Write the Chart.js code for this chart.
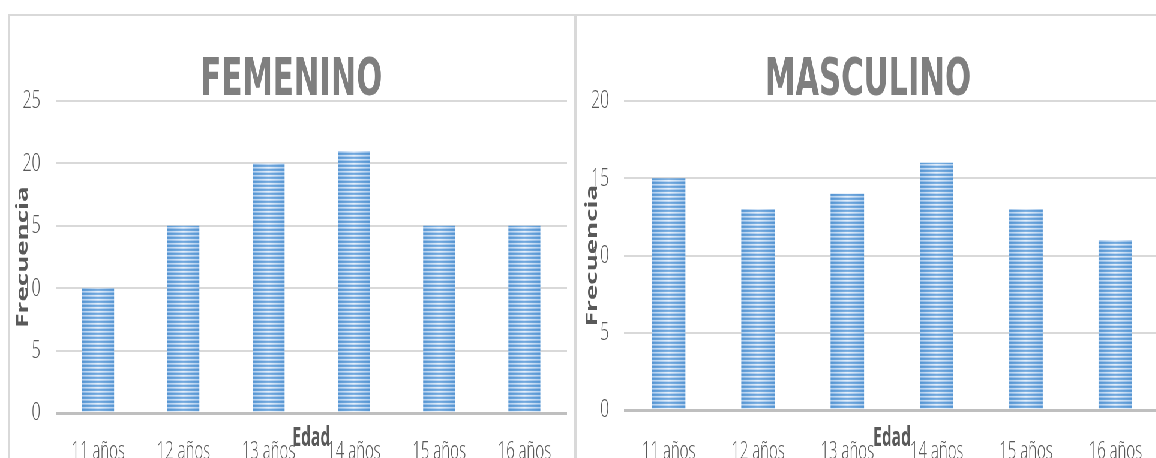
<!DOCTYPE html>
<html>
<head>
<meta charset="utf-8">
<script src="https://cdn.jsdelivr.net/npm/chart.js@4/dist/chart.umd.min.js"></script>
<style>
  html, body { margin: 0; padding: 0; background: #ffffff; }
  body { width: 1156px; height: 458px; overflow: hidden; position: relative; }
  /* the two panels are laid out wide and squeezed horizontally */
  #stage { position: absolute; left: 0; top: 0; width: 1940px; height: 458px;
           transform: scaleX(0.6); transform-origin: 0 0; }
  .box { position: absolute; top: 0; height: 458px; }
  #boxF { left: 0; width: 960px; }
  #boxM { left: 960px; width: 980px; }
  .frame { position: absolute; background: #d9d9d9; }
</style>
</head>
<body>
<div id="stage">
  <div class="box" id="boxF"><canvas id="chartF"></canvas></div>
  <div class="box" id="boxM"><canvas id="chartM"></canvas></div>
</div>
<div class="frame" style="left:8px;top:14px;width:1148px;height:2px"></div>
<div class="frame" style="left:8px;top:14px;width:2px;height:444px"></div>
<div class="frame" style="left:574px;top:14px;width:3px;height:444px"></div>

<script>
// Age groups on the x axis
const edades = ['11 años', '12 años', '13 años', '14 años', '15 años', '16 años'];

// Frequencies per age group
const femenino  = [10, 15, 20, 21, 15, 15];
const masculino = [15, 13, 14, 16, 13, 11];

// Y axis ranges
const femeninoMax = 25;
const masculinoMax = 20;
const pasoY = 5;

const BAR_FRACTION = 0.375;

Chart.defaults.font.family = "'Open Sans', 'DejaVu Sans', sans-serif";
Chart.defaults.animation = false;

// Striped fill with lighter middle, tiled once per category
const fillCache = new WeakMap();
function stripedFill(context) {
  const chart = context.chart;
  const area = chart.chartArea;
  if (!area) return '#5b9bd5';
  const n = chart.data.labels.length;
  const catW = (area.right - area.left) / n;
  const key = area.left + ':' + area.right + ':' + area.bottom;
  const cached = fillCache.get(chart);
  if (cached && cached.key === key) return cached.pattern;

  const tileW = Math.max(1, Math.round(catW));
  const tileH = 4;
  const tile = document.createElement('canvas');
  tile.width = tileW;
  tile.height = tileH;
  const g = tile.getContext('2d');
  const x0 = tileW * (0.5 - BAR_FRACTION / 2);
  const x1 = tileW * (0.5 + BAR_FRACTION / 2);
  const rows = [
    ['#5694d2', '#74a9de'],
    ['#5a9ad5', '#82b3e2'],
    ['#b0cdee', '#e6f0fb'],
    ['#86b5e3', '#c3daf3']
  ];
  rows.forEach(([edge, mid], r) => {
    const grad = g.createLinearGradient(x0, 0, x1, 0);
    grad.addColorStop(0, edge);
    grad.addColorStop(0.5, mid);
    grad.addColorStop(1, edge);
    g.fillStyle = grad;
    g.fillRect(0, r, tileW, 1);
  });
  const pattern = chart.ctx.createPattern(tile, 'repeat');
  pattern.setTransform(new DOMMatrix([catW / tileW, 0, 0, 1, area.left, area.bottom]));
  fillCache.set(chart, { key, pattern });
  return pattern;
}

function makeChart(id, titulo, valores, yMax, geo) {
  return new Chart(document.getElementById(id), {
    type: 'bar',
    data: {
      labels: edades,
      datasets: [{
        data: valores,
        backgroundColor: stripedFill,
        borderWidth: 0,
        barPercentage: BAR_FRACTION,
        categoryPercentage: 1
      }]
    },
    options: {
      responsive: true,
      maintainAspectRatio: false,
      layout: { padding: { left: geo.leftPad, right: geo.rightPad, top: 0, bottom: 0 } },
      plugins: {
        legend: { display: false },
        tooltip: { enabled: false },
        title: {
          display: true,
          text: titulo,
          color: '#7f7f7f',
          font: { family: "'DejaVu Sans', sans-serif", size: 51, weight: 'bold', lineHeight: 0.7 },
          padding: { top: 63.6, bottom: 1.7 }
        }
      },
      scales: {
        x: {
          grid: { display: false },
          border: { display: false },
          ticks: {
            color: '#595959',
            font: { size: 25, weight: '300', lineHeight: 1.2 },
            padding: geo.xTickPad,
            maxRotation: 0,
            autoSkip: false
          },
          title: {
            display: true,
            text: 'Edad',
            color: '#595959',
            font: { size: 26, weight: 'bold', lineHeight: 1.2 },
            padding: { top: 0, bottom: 3.4 }
          },
          afterFit: (s) => { s.height = geo.xAxisHeight; }
        },
        y: {
          min: 0,
          max: yMax,
          border: { display: false },
          grid: {
            drawTicks: false,
            color: (c) => (c.tick && c.tick.value === 0 ? '#bfbfbf' : '#d9d9d9'),
            lineWidth: (c) => (c.tick && c.tick.value === 0 ? 3 : 2)
          },
          ticks: {
            stepSize: pasoY,
            color: '#595959',
            font: { size: 26, weight: '300' },
            padding: 25
          },
          title: {
            display: true,
            text: 'Frecuencia',
            color: '#595959',
            font: { size: 26, weight: 'bold', lineHeight: 0.9 },
            padding: { top: geo.yTitlePad, bottom: 0 }
          },
          afterFit: (s) => { s.width = geo.yAxisWidth; }
        }
      }
    }
  });
}

makeChart('chartF', 'FEMENINO', femenino, femeninoMax,
  { leftPad: 26.7, yAxisWidth: 65.8, rightPad: 15, xAxisHeight: 45, yTitlePad: 0, xTickPad: 15.5 });
makeChart('chartM', 'MASCULINO', masculino, masculinoMax,
  { leftPad: 0, yAxisWidth: 80, rightPad: 6.7, xAxisHeight: 48, yTitlePad: 15.6, xTickPad: 18.5 });
</script>
</body>
</html>
